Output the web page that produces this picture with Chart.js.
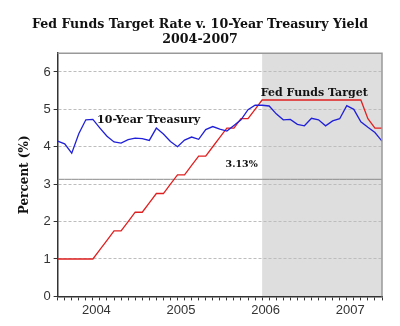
<!DOCTYPE html>
<html>
<head>
<meta charset="utf-8">
<script src="https://cdn.jsdelivr.net/npm/chart.js@4"></script>
<style>
  html, body { margin: 0; padding: 0; background: #fff; }
  #wrap { width: 400px; height: 326px; }
</style>
</head>
<body>
<div id="wrap"><canvas id="chart" width="400" height="326"></canvas></div>
<script>
// month index 0 = Jan 2004 ... 46 = Nov 2007
const years = ["2004", "2005", "2006", "2007"];
const fedFunds = [
  1.00, 1.00, 1.00, 1.00, 1.00, 1.00, 1.25, 1.50, 1.75, 1.75, 2.00, 2.25,
  2.25, 2.50, 2.75, 2.75, 3.00, 3.25, 3.25, 3.50, 3.75, 3.75, 4.00, 4.25,
  4.50, 4.50, 4.75, 4.75, 5.00, 5.25, 5.25, 5.25, 5.25, 5.25, 5.25, 5.25,
  5.25, 5.25, 5.25, 5.25, 5.25, 5.25, 5.25, 5.25, 4.75, 4.50, 4.50
];
const treasury10 = [
  4.15, 4.08, 3.83, 4.35, 4.72, 4.73, 4.50, 4.28, 4.13, 4.10, 4.19, 4.23,
  4.22, 4.17, 4.50, 4.34, 4.14, 4.00, 4.18, 4.26, 4.20, 4.46, 4.54, 4.47,
  4.42, 4.57, 4.72, 4.99, 5.11, 5.11, 5.09, 4.88, 4.72, 4.73, 4.60, 4.56,
  4.76, 4.72, 4.56, 4.69, 4.75, 5.10, 5.00, 4.67, 4.52, 4.38, 4.15
];
const refValue = 3.13;
const shadeStart = 29; // Jun 2006, Fed Funds reaches 5.25

const pts = arr => arr.map((v, i) => ({ x: i, y: v }));

const serif = "'DejaVu Serif', 'Liberation Serif', serif";
const sans = "'Liberation Sans', Arial, sans-serif";

// shaded period + frame, drawn before grid so dashes show on top
const backdrop = {
  id: "backdrop",
  beforeDraw(chart) {
    const { ctx, chartArea: a, scales: { x } } = chart;
    const sx = x.getPixelForValue(shadeStart);
    ctx.save();
    ctx.fillStyle = "#dedede";
    ctx.fillRect(sx, a.top, a.right - sx, a.bottom - a.top);
    ctx.restore();
  },
  afterDraw(chart) {
    const { ctx, chartArea: a, scales: { x, y } } = chart;
    ctx.save();
    ctx.strokeStyle = "#999";
    ctx.lineWidth = 1.5;
    ctx.beginPath();
    ctx.moveTo(a.left, a.top);
    ctx.lineTo(a.right, a.top);
    ctx.lineTo(a.right, a.bottom);
    ctx.stroke();

    // text labels
    ctx.fillStyle = "#111";
    ctx.font = "bold 11px " + serif;
    ctx.textAlign = "center";
    ctx.textBaseline = "middle";
    ctx.fillText("10-Year Treasury", x.getPixelForValue(12.9), y.getPixelForValue(4.72));
    ctx.fillText("Fed Funds Target", x.getPixelForValue(36.4), y.getPixelForValue(5.44));
    ctx.font = "bold 9.5px " + serif;
    ctx.fillText("3.13%", x.getPixelForValue(26.1), y.getPixelForValue(3.53));
    ctx.restore();
  }
};

new Chart(document.getElementById("chart").getContext("2d"), {
  type: "line",
  data: {
    datasets: [
      {
        label: "3.13%",
        data: pts(fedFunds.map(() => refValue)),
        borderColor: "#8a8a8a",
        borderWidth: 1,
        pointRadius: 0,
        order: 3
      },
      {
        label: "Fed Funds Target",
        data: pts(fedFunds),
        borderColor: "#e02020",
        borderWidth: 1.3,
        pointRadius: 0,
        order: 2
      },
      {
        label: "10-Year Treasury",
        data: pts(treasury10),
        borderColor: "#2020d8",
        borderWidth: 1.3,
        pointRadius: 0,
        order: 1
      }
    ]
  },
  options: {
    responsive: false,
    animation: false,
    layout: { padding: { left: 18, right: 18, top: 0, bottom: 6 } },
    plugins: {
      legend: { display: false },
      tooltip: { enabled: false },
      title: {
        display: true,
        text: ["Fed Funds Target Rate v. 10-Year Treasury Yield", "2004-2007"],
        font: { family: serif, size: 12.6, weight: "bold", lineHeight: 1.2 },
        color: "#111",
        padding: { top: 17, bottom: 6 }
      }
    },
    scales: {
      x: {
        type: "linear",
        min: 0,
        max: fedFunds.length - 1,
        afterBuildTicks: s => { s.ticks = fedFunds.map((_, i) => ({ value: i })); },
        ticks: {
          autoSkip: false,
          maxRotation: 0,
          labelOffset: 3.5,
          padding: 2,
          color: "#333",
          font: { family: sans, size: 13 },
          callback: v => (v % 12 === 5 ? years[Math.floor(v / 12)] : "")
        },
        grid: { drawOnChartArea: false, drawTicks: true, tickLength: 4, tickColor: "#333" },
        border: { color: "#333", width: 1.5 }
      },
      y: {
        min: 0,
        max: 6.5,
        afterBuildTicks: s => { s.ticks = [0, 1, 2, 3, 4, 5, 6].map(v => ({ value: v })); },
        ticks: {
          color: "#333",
          padding: 3,
          font: { family: sans, size: 13 }
        },
        grid: {
          color: c => (c.tick && c.tick.value === 0 ? "rgba(0,0,0,0)" : "#bdbdbd"),
          tickColor: "#333",
          tickLength: 4,
          lineWidth: 1
        },
        border: { color: "#333", width: 1.5, dash: [3, 2] },
        title: {
          display: true,
          text: "Percent (%)",
          color: "#111",
          font: { family: serif, size: 12, weight: "bold" },
          padding: { top: 0, bottom: 8 }
        }
      }
    }
  },
  plugins: [backdrop]
});
</script>
</body>
</html>
